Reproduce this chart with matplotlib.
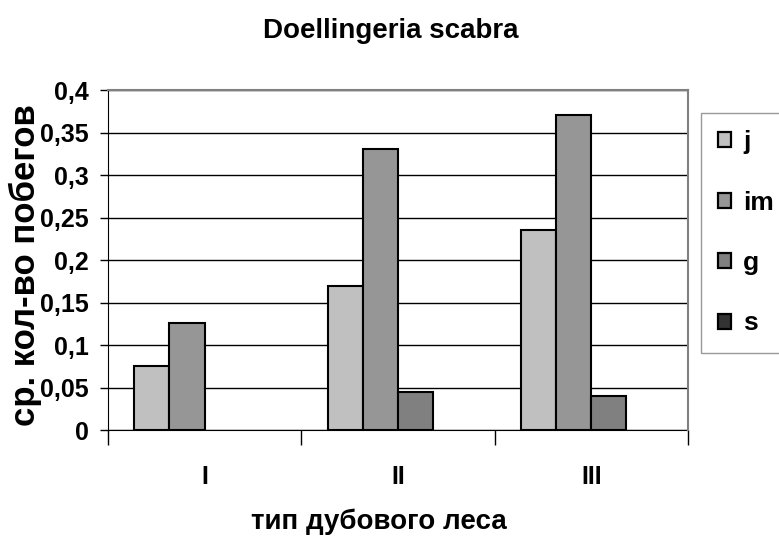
import numpy as np
import matplotlib.pyplot as plt
from matplotlib.patches import Patch
from matplotlib.ticker import FuncFormatter

plt.rcParams['font.family'] = ['Liberation Sans', 'DejaVu Sans']
plt.rcParams['font.weight'] = 'bold'

categories = ['I', 'II', 'III']
series = ['j', 'im', 'g', 's']
j_vals = [0.075, 0.169, 0.235]
im_vals = [0.126, 0.331, 0.371]
g_vals = [0.0, 0.045, 0.0395]
s_vals = [0.0, 0.0, 0.0]
colors = ['#c0c0c0', '#969696', '#808080', '#333333']

data = [j_vals, im_vals, g_vals, s_vals]

fig = plt.figure(figsize=(7.79, 5.43), dpi=100)
ax = fig.add_axes([0.1386, 0.208, 0.7446, 0.626])

n = len(series)
gap = 1.5
w = 1.0 / (n + gap)
x = np.arange(len(categories))
for i in range(n):
    pos = x - 0.5 + w * gap / 2 + w * (i + 0.5)
    lw = [1.5 if v > 0 else 0 for v in data[i]]
    ax.bar(pos, data[i], width=w, color=colors[i], edgecolor='black',
           linewidth=lw, zorder=3)

ax.set_xlim(-0.5, len(categories) - 0.5)
ax.set_ylim(0, 0.4)
ax.set_yticks(np.arange(0, 0.401, 0.05))
ax.yaxis.set_major_formatter(FuncFormatter(lambda v, p: ('%g' % round(v, 2)).replace('.', ',')))
ax.grid(axis='y', color='black', linewidth=1, zorder=0)
ax.set_axisbelow(True)

ax.set_xticks(x)
ax.set_xticklabels(categories, fontsize=18)
ax.set_xticks(np.arange(-0.5, len(categories), 1.0), minor=True)
ax.tick_params(axis='x', which='major', length=0, pad=25)
ax.tick_params(axis='x', which='minor', length=11, width=1, direction='out')
ax.tick_params(axis='y', length=6, width=1, direction='out', labelsize=18, pad=8)

for sp in ['top', 'right']:
    ax.spines[sp].set_color('#808080')
    ax.spines[sp].set_linewidth(1.5)
    ax.spines[sp].set_zorder(4)
for sp in ['left', 'bottom']:
    ax.spines[sp].set_color('black')

fig.text(391 / 779, 1 - 31 / 543, 'Doellingeria scabra', fontsize=20,
         fontweight='bold', ha='center', va='center')
ax.set_xlabel('тип дубового леса', fontsize=20, fontweight='bold')
ax.xaxis.set_label_coords((379 - 108) / 580, (430 - 508) / 340)
ax.set_ylabel('ср. кол-во побегов', fontsize=25, fontweight='bold')
ax.yaxis.set_label_coords((42 - 108) / 580, (430 - 265) / 340)

# legend
handles = [Patch(facecolor=colors[i], edgecolor='black', linewidth=1.6) for i in range(n)]
leg = fig.legend(handles, series, loc='upper left', bbox_to_anchor=(701 / 779, 1 - 113 / 543),
                 fontsize=19, frameon=True, fancybox=False, handlelength=0.5,
                 handleheight=0.5, handletextpad=0.45, labelspacing=1.38,
                 borderpad=0.65, borderaxespad=0)
leg.get_frame().set_edgecolor('#808080')
leg.get_frame().set_linewidth(1)

fig.savefig('out.png', dpi=100)
